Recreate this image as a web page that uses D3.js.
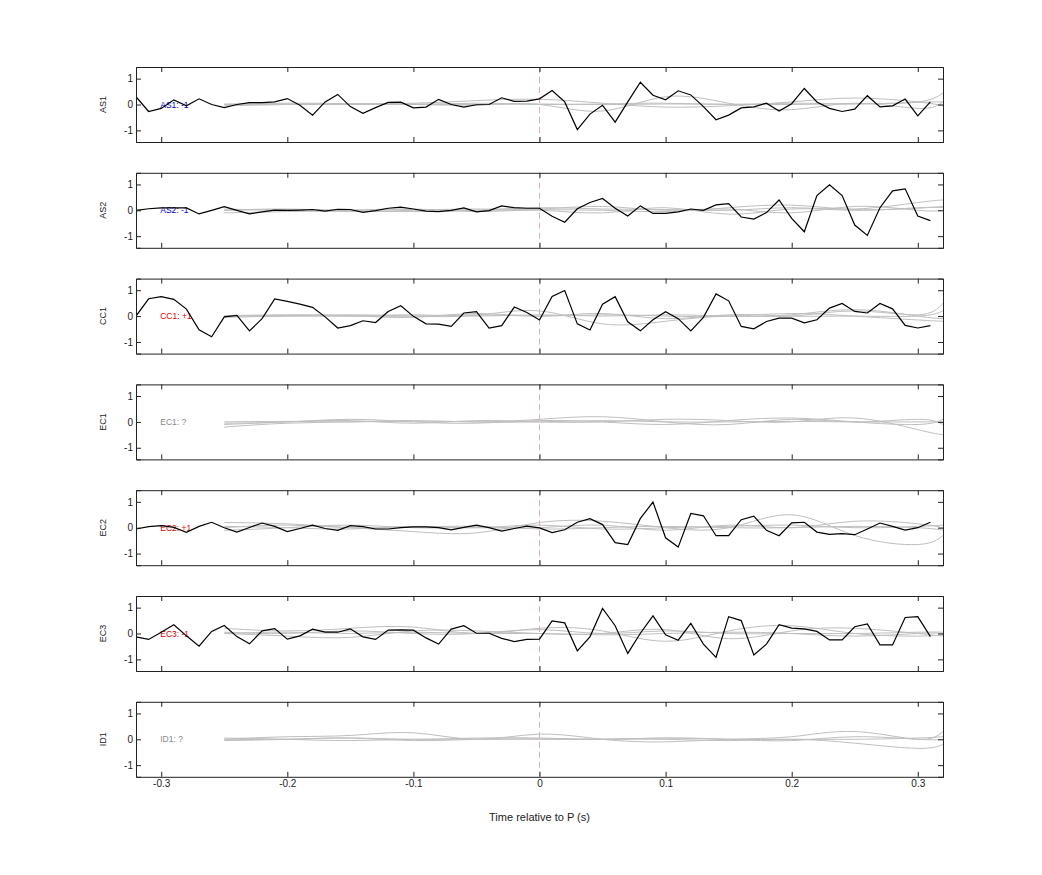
<!DOCTYPE html>
<html><head><meta charset="utf-8">
<script src="https://cdn.jsdelivr.net/npm/d3@7"></script>
<style>body{margin:0;background:#fff}</style></head>
<body><svg id="c" width="1042" height="875"></svg>
<script>
const channels = ["AS1","AS2","CC1","EC1","EC2","EC3","ID1"];
const labels = ["AS1: -1","AS2: -1","CC1: +1","EC1: ?","EC2: +1","EC3: -1","ID1: ?"];
const labelColors = ["#0000cc","#0000cc","#dd0000","#888888","#dd0000","#dd0000","#888888"];
const xTicks = [-0.3,-0.2,-0.1,0,0.1,0.2,0.3];
const yTicks = [-1,0,1];
const blackStart = -0.32, blackStep = 0.01;
const blackSeries = {
AS1:[0.3,-0.27,-0.15,0.18,-0.05,0.22,0,-0.12,0,0.07,0.07,0.1,0.23,-0.03,-0.41,0.1,0.39,-0.08,-0.34,-0.12,0.08,0.09,-0.13,-0.1,0.2,0,-0.1,-0.01,0,0.26,0.12,0.13,0.22,0.54,0.1,-0.97,-0.37,-0.03,-0.68,0.1,0.86,0.36,0.18,0.53,0.37,-0.08,-0.59,-0.41,-0.13,-0.09,0.05,-0.25,0.03,0.62,0.1,-0.15,-0.27,-0.18,0.34,-0.09,-0.05,0.21,-0.44,0.1],
AS2:[0,0.06,0.09,0.09,0.09,-0.14,0,0.14,0,-0.14,-0.06,0.01,0,0.01,0.03,-0.03,0.04,0.03,-0.08,-0.01,0.08,0.12,0.05,-0.03,-0.05,0,0.09,-0.06,-0.01,0.17,0.1,0.08,0.08,-0.23,-0.46,0.06,0.3,0.46,0.08,-0.22,0.17,-0.12,-0.12,-0.06,0.05,0,0.21,0.26,-0.26,-0.34,-0.09,0.4,-0.31,-0.83,0.57,0.99,0.57,-0.57,-0.97,0.1,0.75,0.83,-0.22,-0.4],
CC1:[0,0.67,0.75,0.65,0.27,-0.53,-0.8,-0.03,0.03,-0.57,-0.1,0.66,0.57,0.46,0.34,-0.03,-0.46,-0.37,-0.18,-0.25,0.18,0.4,-0.01,-0.3,-0.31,-0.4,0.12,0.17,-0.46,-0.37,0.35,0.14,-0.15,0.76,0.99,-0.3,-0.54,0.46,0.75,-0.22,-0.57,-0.14,0.17,-0.1,-0.57,-0.05,0.86,0.59,-0.4,-0.49,-0.21,-0.08,-0.08,-0.26,-0.14,0.31,0.49,0.18,0.12,0.49,0.28,-0.36,-0.46,-0.37],
EC2:[-0.05,0.04,0.08,0.01,-0.18,0.05,0.21,0,-0.17,0.01,0.18,0.05,-0.15,-0.03,0.1,-0.03,-0.1,0.08,0.04,-0.05,-0.05,0,0.03,0.03,0,-0.08,0.01,0.1,0,-0.13,-0.03,0.06,-0.01,-0.19,-0.08,0.21,0.35,0.12,-0.58,-0.65,0.36,0.99,-0.39,-0.75,0.55,0.46,-0.31,-0.31,0.31,0.45,-0.1,-0.31,0.19,0.21,-0.17,-0.26,-0.23,-0.27,-0.05,0.18,0.05,-0.09,0,0.21],
EC3:[-0.13,-0.23,0.05,0.34,-0.09,-0.49,0.08,0.31,-0.12,-0.4,0.1,0.19,-0.22,-0.09,0.17,0.05,0.05,0.18,-0.13,-0.23,0.13,0.14,0.13,-0.17,-0.41,0.17,0.3,0.01,0.01,-0.19,-0.31,-0.23,-0.22,0.49,0.41,-0.67,-0.13,0.97,0.3,-0.77,0.01,0.68,-0.05,-0.26,0.39,-0.41,-0.92,0.65,0.5,-0.83,-0.41,0.34,0.21,0.18,0.08,-0.25,-0.25,0.26,0.37,-0.44,-0.44,0.62,0.65,-0.12]
};
const grayT = [-0.25,-0.2,-0.15,-0.1,-0.05,0,0.05,0.1,0.15,0.2,0.25,0.3,0.32];
const graySeries = {
AS1:[[-0.05,0,0.03,0.05,0.15,0.2,0.05,-0.1,-0.05,0.1,0.25,0.1,-0.05],[0,0.02,0,0,-0.02,0,-0.25,0.3,0.05,-0.2,0.05,-0.15,0.1],[0.02,0,0.01,0.02,0,0.02,0,0.02,0.01,0,0.03,0.1,0.45],[0,0.05,0.03,0,0.05,0,0.02,0.05,0,0.05,0.02,0.08,0.1]],
AS2:[[0,0.05,-0.02,-0.05,0,0.1,0.05,0.03,0,0.1,0.05,0.3,0.4],[-0.1,-0.05,0,0.05,-0.05,0,-0.1,0.1,-0.15,0.05,0,0.1,0.1],[0.05,0,-0.05,0,0.05,0.05,0.15,0,0.05,-0.1,0.15,0,0],[0,0.02,0,0.03,0,0.02,0,-0.05,0.1,0.2,0.03,0.08,0.15]],
CC1:[[0,0,0.05,0,0.03,0.2,-0.3,-0.2,0,0,0.2,0.05,0.5],[0.02,0.05,0.02,-0.05,0.1,0,0.1,-0.1,0.05,0,0,0,0.2],[-0.05,0,0,0.05,0,0.05,0,0.05,0,0.05,0.25,0,-0.1],[0,0.03,0,0,0.05,0,0.05,0,0,0.1,0,-0.15,-0.2]],
EC1:[[-0.2,-0.05,0,0.05,0,0.1,0.2,0,-0.1,0.1,0,0.1,-0.1],[-0.1,0,0.05,-0.05,0.05,0,0,0.1,0.05,0,0.15,-0.3,-0.5],[0,0.02,0,0.03,0,0,0.05,0,0,0.02,0,0,0],[-0.05,0,0.1,0,-0.05,0.05,0,-0.1,0.05,0.15,0,-0.1,0.1]],
EC2:[[0.2,0.15,0,-0.15,-0.2,0.2,0.25,0,0,0.5,-0.3,-0.65,-0.3],[-0.1,0,0.1,0,0,0,0.1,-0.1,0.1,0,0.25,0.15,0],[0,0.1,0,0.02,0.05,-0.05,0,0.05,0,0,0.05,0,-0.1],[0.05,0,-0.05,0.05,0,0.1,-0.05,0,0.05,0.1,0,0.05,0.1]],
EC3:[[0.2,0.1,0.2,0.25,0,0.2,0.1,-0.3,0.1,0.3,0,-0.1,-0.05],[0,-0.1,-0.15,0.1,0.1,0,0,0.15,-0.2,0.1,0.2,0,-0.1],[0.05,0,0.1,0,0,0.15,0,0.1,0,0,0,0.05,0.05],[0,0.05,0,0.05,0,0,-0.05,0,0.05,0,-0.1,0,0]],
ID1:[[0,0.1,0.15,0.25,0,0.2,0,-0.1,0,0.1,0.3,0,0.3],[0,0,0.05,0,0.05,0.05,0,0.05,0,0,0,0.05,0.1],[0.05,0,-0.05,0,0,0.02,0,0,-0.05,0,-0.15,-0.35,-0.2],[-0.05,0,0.05,-0.05,0,0,0,0.05,0,-0.05,0.1,0,0]]
};

const svg = d3.select("#c");
const L=136, R=943, H=75, top0=67, gap=105.8;
const x = d3.scaleLinear().domain([-0.32,0.32]).range([L,R]);
const font = "Helvetica, Arial, 'Liberation Sans', sans-serif";
const fmt = d => String(d);
svg.append("defs").append("clipPath").attr("id","clip").append("rect").attr("x",L).attr("y",0).attr("width",R-L).attr("height",H);

channels.forEach((ch,i)=>{
  const T = top0 + i*gap;
  const g = svg.append("g").attr("transform",`translate(0,${T})`);
  const y = d3.scaleLinear().domain([-1.45,1.45]).range([H,0]);
  const plot = g.append("g").attr("clip-path","url(#clip)");
  plot.append("line").attr("x1",x(0)).attr("x2",x(0)).attr("y1",0).attr("y2",H)
    .attr("stroke","#d09a9a").attr("stroke-width",0.8).attr("stroke-dasharray","6,4");
  const gline = d3.line().x((d,k)=>x(grayT[k])).y(d=>y(d)).curve(d3.curveNatural);
  (graySeries[ch]||[]).forEach(s=>{
    plot.append("path").attr("d",gline(s)).attr("fill","none").attr("stroke","#bfbfbf").attr("stroke-width",1);
  });
  plot.append("text").attr("x",x(-0.3)-1).attr("y",y(0)+3).attr("font-family",font).attr("font-size",8.5)
    .attr("fill",labelColors[i]).text(labels[i]);
  if(blackSeries[ch]){
    const bline = d3.line().x((d,k)=>x(blackStart+k*blackStep)).y(d=>y(d));
    plot.append("path").attr("d",bline(blackSeries[ch])).attr("fill","none").attr("stroke","#000").attr("stroke-width",1.2);
  }
  const ax = g.append("g");
  ax.append("g").attr("transform",`translate(0,${H})`).call(d3.axisBottom(x).tickValues(xTicks).tickSize(-5).tickFormat(i===6?fmt:""));
  ax.append("g").call(d3.axisTop(x).tickValues(xTicks).tickSize(-5).tickFormat(""));
  ax.append("g").attr("transform",`translate(${L},0)`).call(d3.axisLeft(y).tickValues(yTicks).tickSize(-5).tickFormat(fmt));
  ax.append("g").attr("transform",`translate(${R},0)`).call(d3.axisRight(y).tickValues(yTicks).tickSize(-5).tickFormat(""));
  ax.selectAll(".domain").attr("stroke","#222").attr("stroke-width",1);
  ax.selectAll(".tick line").attr("stroke","#222");
  ax.selectAll("text").attr("font-family",font).attr("font-size",10).attr("fill","#222");
  g.append("text").attr("transform",`translate(106,${H/2}) rotate(-90)`).attr("text-anchor","middle")
    .attr("font-family",font).attr("font-size",9).attr("fill","#222").text(ch);
});
svg.append("text").attr("x",(L+R)/2).attr("y",821).attr("text-anchor","middle").attr("font-family",font)
  .attr("font-size",11).attr("fill","#222").text("Time relative to P (s)");
</script></body></html>
